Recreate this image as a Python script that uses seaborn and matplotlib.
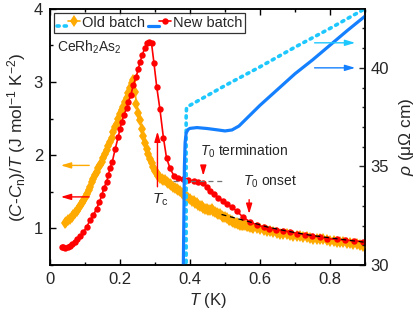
import matplotlib
matplotlib.use("Agg")
import matplotlib.pyplot as plt
import seaborn as sns
from matplotlib.ticker import MultipleLocator
from matplotlib.legend_handler import HandlerTuple, HandlerLine2D

# specific heat (C-Cn)/T, old batch (orange diamonds)
T_old = [0.043, 0.047, 0.052, 0.057, 0.062, 0.066, 0.071, 0.076, 0.081, 0.085,
         0.090, 0.095, 0.100, 0.105, 0.110, 0.114, 0.119, 0.124, 0.129, 0.133,
         0.138, 0.143, 0.148, 0.152, 0.157, 0.162, 0.167, 0.171, 0.176, 0.181,
         0.186, 0.190, 0.195, 0.200, 0.205, 0.209, 0.214, 0.219, 0.224, 0.228,
         0.233, 0.238,
         0.243, 0.247, 0.252, 0.257, 0.262, 0.267, 0.271, 0.276, 0.281, 0.286,
         0.290, 0.295, 0.300, 0.305, 0.309, 0.314, 0.319, 0.324, 0.328, 0.333,
         0.338, 0.343, 0.347, 0.352, 0.357, 0.362, 0.366, 0.371, 0.376, 0.381,
         0.386, 0.390, 0.395, 0.400, 0.405, 0.410, 0.414, 0.419, 0.424, 0.429,
         0.433, 0.438, 0.443, 0.448, 0.452, 0.457, 0.462, 0.467, 0.471, 0.476,
         0.481, 0.486, 0.490, 0.495, 0.500, 0.505, 0.510, 0.514, 0.519, 0.524,
         0.529, 0.533, 0.538, 0.543, 0.548, 0.552, 0.557, 0.562, 0.567, 0.571,
         0.576, 0.581, 0.590, 0.600, 0.610, 0.619, 0.629, 0.638, 0.648, 0.657,
         0.667, 0.676, 0.686, 0.695, 0.705, 0.714, 0.724, 0.733, 0.743, 0.752,
         0.762, 0.771, 0.781, 0.790, 0.800, 0.810, 0.819, 0.829, 0.838, 0.848,
         0.857, 0.867, 0.876, 0.886, 0.895]
C_old = [1.08, 1.09, 1.11, 1.13, 1.16, 1.18, 1.21, 1.24, 1.27, 1.30,
         1.34, 1.38, 1.42, 1.47, 1.52, 1.57, 1.63, 1.68, 1.73, 1.77,
         1.82, 1.86, 1.91, 1.96, 2.01, 2.07, 2.12, 2.18, 2.24, 2.31,
         2.38, 2.43, 2.50, 2.56, 2.61, 2.66, 2.72, 2.78, 2.85, 2.92,
         2.99, 3.02,
         2.86, 2.70, 2.57, 2.48, 2.36, 2.26, 2.17, 2.09, 2.02, 1.95,
         1.89, 1.84, 1.79, 1.75, 1.72, 1.69, 1.67, 1.66, 1.66, 1.64,
         1.62, 1.61, 1.59, 1.57, 1.55, 1.54, 1.52, 1.51, 1.49, 1.47,
         1.45, 1.43, 1.42, 1.40, 1.38, 1.37, 1.35, 1.34, 1.32, 1.31,
         1.30, 1.28, 1.27, 1.26, 1.25, 1.25, 1.26, 1.24, 1.22, 1.21,
         1.20, 1.19, 1.17, 1.16, 1.15, 1.14, 1.12, 1.11, 1.10, 1.09,
         1.08, 1.07, 1.06, 1.05, 1.05, 1.04, 1.04, 1.03, 1.03, 1.02,
         1.02, 1.01, 1.00, 0.99, 0.98, 0.97, 0.96, 0.95, 0.94, 0.93,
         0.93, 0.92, 0.91, 0.90, 0.90, 0.89, 0.88, 0.88, 0.87, 0.86,
         0.86, 0.85, 0.85, 0.84, 0.83, 0.83, 0.82, 0.82, 0.81, 0.80,
         0.80, 0.79, 0.78, 0.77, 0.76]

# specific heat, new batch (red circles)
T_new = [0.033, 0.038, 0.043, 0.050, 0.057, 0.064, 0.071, 0.078, 0.086, 0.095,
         0.105, 0.114, 0.124, 0.133, 0.141, 0.148, 0.154, 0.162, 0.167, 0.171,
         0.178, 0.186, 0.195, 0.200, 0.205, 0.211, 0.219, 0.224, 0.231, 0.238,
         0.246, 0.252, 0.257, 0.264, 0.271, 0.276, 0.283, 0.290, 0.297, 0.305,
         0.314, 0.324, 0.333, 0.343, 0.355, 0.367, 0.381, 0.395, 0.410, 0.424,
         0.438, 0.448, 0.457, 0.469, 0.481, 0.493, 0.507, 0.519, 0.533, 0.550,
         0.571, 0.590, 0.610, 0.627, 0.646, 0.667, 0.686, 0.707, 0.729, 0.748,
         0.771, 0.792, 0.819, 0.843, 0.869, 0.895]
C_new = [0.75, 0.74, 0.73, 0.74, 0.76, 0.79, 0.82, 0.86, 0.89, 0.95,
         1.02, 1.11, 1.18, 1.27, 1.36, 1.45, 1.55, 1.64, 1.73, 1.82,
         1.91, 2.08, 2.25, 2.36, 2.45, 2.55, 2.64, 2.73, 2.82, 2.96,
         3.07, 3.17, 3.27, 3.37, 3.47, 3.53, 3.55, 3.53, 3.26, 2.93,
         2.63, 2.24, 1.96, 1.82, 1.71, 1.69, 1.67, 1.66, 1.65, 1.64,
         1.62, 1.57, 1.51, 1.47, 1.42, 1.38, 1.33, 1.29, 1.24, 1.16,
         1.09, 1.05, 1.02, 0.99, 0.98, 0.97, 0.95, 0.93, 0.91, 0.90,
         0.88, 0.86, 0.85, 0.84, 0.83, 0.82]

# dashed guide lines
T_flat = [0.352, 0.500]
C_flat = [1.645, 1.645]
T_fit = [0.490, 0.530, 0.570, 0.620, 0.680, 0.740, 0.800, 0.900]
C_fit = [1.19, 1.14, 1.09, 1.02, 0.96, 0.91, 0.87, 0.81]

# resistivity (right axis)
T_rho_old = [0.388, 0.389, 0.389, 0.390, 0.395, 0.450, 0.500, 0.600, 0.700, 0.800, 0.900]
rho_old = [0.0, 30.0, 37.5, 37.95, 38.05, 38.6, 39.1, 40.05, 41.05, 42.0, 43.0]
T_rho_new = [0.379, 0.381, 0.384, 0.386, 0.389, 0.395, 0.400, 0.420, 0.450, 0.480,
             0.500, 0.520, 0.540, 0.560, 0.580, 0.600, 0.650, 0.700, 0.750, 0.800,
             0.850, 0.900]
rho_new = [0.0, 30.0, 35.0, 36.2, 36.7, 36.88, 36.93, 36.97, 36.92, 36.85,
           36.80, 36.85, 37.05, 37.40, 37.75, 38.10, 38.90, 39.70, 40.40, 41.15,
           41.90, 42.62]

ORANGE = "#FFAA00"
RED = "#FF0000"
CYAN = "#1EC8FF"
BLUE = "#1480FF"


class ShiftedLine(HandlerLine2D):
    # legend line drawn a little above/below the centre
    def __init__(self, dy, **kw):
        super().__init__(**kw)
        self.dy = dy

    def create_artists(self, legend, orig_handle, xdescent, ydescent, width,
                       height, fontsize, trans):
        return super().create_artists(legend, orig_handle, xdescent,
                                      ydescent + self.dy, width, height,
                                      fontsize, trans)


sns.set_style("ticks")
plt.rcParams["font.family"] = ["Liberation Sans", "DejaVu Sans"]
plt.rcParams["mathtext.fontset"] = "custom"
plt.rcParams["mathtext.rm"] = "Liberation Sans"
plt.rcParams["mathtext.it"] = "Liberation Sans:italic"
plt.rcParams["mathtext.bf"] = "Liberation Sans:bold"

fig = plt.figure(figsize=(4.15, 3.12), dpi=100)
ax = fig.add_axes([50 / 415, 47 / 312, 315 / 415, 256.3 / 312])
ax2 = ax.twinx()

sns.lineplot(x=T_old, y=C_old, ax=ax, color=ORANGE, marker="d", markersize=6,
             markeredgewidth=0, lw=1.2, sort=False, estimator=None, zorder=3)
sns.lineplot(x=T_new, y=C_new, ax=ax, color=RED, marker="o", markersize=4.6,
             markeredgewidth=0, lw=1.2, sort=False, estimator=None, zorder=4)
ax.plot(T_flat, C_flat, ls=(0, (4, 3)), color="0.45", lw=0.9, zorder=5)
ax.plot(T_fit, C_fit, ls=(0, (4, 3)), color="black", lw=0.9, zorder=5)

sns.lineplot(x=T_rho_old, y=rho_old, ax=ax2, color=CYAN, lw=2.6, sort=False,
             estimator=None, linestyle=(0, (0.6, 1.4)), dash_capstyle="round")
sns.lineplot(x=T_rho_new, y=rho_new, ax=ax2, color=BLUE, lw=2.3, sort=False,
             estimator=None)

ax.set_xlim(0, 0.9)
ax.set_ylim(0.5, 4)
ax2.set_ylim(30, 43)
ax.xaxis.set_minor_locator(MultipleLocator(0.1))
ax.yaxis.set_major_locator(MultipleLocator(1))
ax.yaxis.set_minor_locator(MultipleLocator(0.5))
ax2.yaxis.set_major_locator(MultipleLocator(5))
ax2.yaxis.set_minor_locator(MultipleLocator(1))
ax.set_xticks([0, 0.2, 0.4, 0.6, 0.8])
ax.set_xticklabels(["0", "0.2", "0.4", "0.6", "0.8"])

ax.tick_params(which="both", direction="in", top=True, right=False, labelsize=12,
               width=1, color="black", pad=5)
ax.tick_params(which="major", length=4)
ax.tick_params(which="minor", length=2.5)
ax2.tick_params(which="both", direction="in", labelsize=12, width=1, pad=4)
ax2.tick_params(which="major", length=4)
ax2.tick_params(which="minor", length=2.5)
for a in (ax, ax2):
    for s in a.spines.values():
        s.set_linewidth(1.1)
        s.set_color("black")

ax.set_xlabel(r"$T$ (K)", fontsize=12, labelpad=3)
ax.set_ylabel(r"$(C$-$C_{\rm n})/T$ (J mol$^{-1}$ K$^{-2}$)", fontsize=12.5, labelpad=4)
ax2.set_ylabel(r"$\rho$ (μΩ cm)", fontsize=12.5, labelpad=6)

# arrows pointing to the axes
arr = "-|>,head_length=0.6,head_width=0.18"
ax.annotate("", xy=(0.023, 1.86), xytext=(0.12, 1.86),
            arrowprops=dict(arrowstyle=arr, color=ORANGE, lw=1))
ax.annotate("", xy=(0.023, 1.43), xytext=(0.12, 1.43),
            arrowprops=dict(arrowstyle=arr, color=RED, lw=1))
ax2.annotate("", xy=(0.88, 41.27), xytext=(0.748, 41.27),
             arrowprops=dict(arrowstyle=arr, color=CYAN, lw=1))
ax2.annotate("", xy=(0.88, 40.0), xytext=(0.748, 40.0),
             arrowprops=dict(arrowstyle=arr, color=BLUE, lw=1))

# transition markers
ax.annotate("", xy=(0.307, 2.36), xytext=(0.307, 1.53),
            arrowprops=dict(arrowstyle=arr, color=RED, lw=1))
ax.text(0.314, 1.50, r"$T_{\rm c}$", fontsize=11, ha="center", va="top")
ax.annotate("", xy=(0.438, 1.68), xytext=(0.438, 1.85),
            arrowprops=dict(arrowstyle=arr, color=RED, lw=1))
ax.text(0.428, 1.99, r"$T_0$ termination", fontsize=10, ha="left", va="baseline")
ax.annotate("", xy=(0.569, 1.16), xytext=(0.569, 1.43),
            arrowprops=dict(arrowstyle=arr, color=RED, lw=1))
ax.text(0.552, 1.58, r"$T_0$ onset", fontsize=10, ha="left", va="baseline")

ax.text(0.019, 3.41, r"CeRh$_2$As$_2$", fontsize=10, ha="left", va="baseline")

# legend: each batch combines the C/T symbols and the resistivity line
rho_old_line, rho_new_line = ax2.lines[0], ax2.lines[1]
c_old_line, c_new_line = ax.lines[0], ax.lines[1]
hmap = {tuple: HandlerTuple(ndivide=None, pad=0),
        rho_old_line: ShiftedLine(5), rho_new_line: ShiftedLine(5),
        c_old_line: ShiftedLine(-2), c_new_line: ShiftedLine(-2)}
leg = ax2.legend([(rho_old_line, c_old_line), (rho_new_line, c_new_line)],
                 ["Old batch", "New batch"], ncol=2,
                 loc="upper left", bbox_to_anchor=(0.003, 0.993), fontsize=10.5,
                 handler_map=hmap, handlelength=1.6, handletextpad=0.12,
                 columnspacing=0.2, borderpad=0.2, borderaxespad=0.2,
                 frameon=True, fancybox=False)
leg.get_frame().set_edgecolor("black")
leg.get_frame().set_linewidth(0.9)

fig.savefig("out.png", dpi=100)
